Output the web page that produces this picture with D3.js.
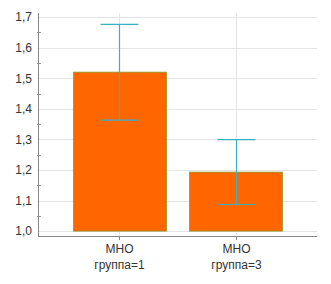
<!DOCTYPE html>
<html>
<head>
<meta charset="utf-8">
<script src="https://cdn.jsdelivr.net/npm/d3@7"></script>
<style>
  body { margin: 0; background: #fff; }
  text { font-family: Arial, "Liberation Sans", sans-serif; }
</style>
</head>
<body>
<svg id="chart" width="331" height="284"></svg>
<script>
// data
const categories = ['МНО|группа=1', 'МНО|группа=3'];
const means = [1.52, 1.193];
const upper = [1.676, 1.299];
const lower = [1.363, 1.087];
const yTicks = [1.0, 1.1, 1.2, 1.3, 1.4, 1.5, 1.6, 1.7];
const yMinor = [1.05, 1.15, 1.25, 1.35, 1.45, 1.55, 1.65];

const margin = { left: 38, right: 14, top: 13, bottom: 48 };
const width = 331 - margin.left - margin.right;
const height = 284 - margin.top - margin.bottom;

const svg = d3.select('#chart')
  .append('g')
  .attr('transform', `translate(${margin.left},${margin.top})`);

const xScale = d3.scaleBand()
  .domain(categories)
  .range([0, width])
  .paddingInner(0.205)
  .paddingOuter(0.295);

const yScale = d3.scaleLinear()
  .domain([0.984, 1.7135])
  .range([height, 0]);

const fmt = d => d3.format('.1f')(d).replace('.', ',');
const cx = d => Math.round(xScale(d) + xScale.bandwidth() / 2) + 0.5;

// grid
svg.selectAll('.hgrid')
  .data(yTicks)
  .enter().append('line')
  .attr('x1', 0).attr('x2', width)
  .attr('y1', d => Math.round(yScale(d)) + 0.5).attr('y2', d => Math.round(yScale(d)) + 0.5)
  .style('stroke', '#e4e4e4');

svg.selectAll('.vgrid')
  .data(categories)
  .enter().append('line')
  .attr('x1', cx).attr('x2', cx)
  .attr('y1', 0).attr('y2', height)
  .style('stroke', '#e4e4e4');

// bars
svg.selectAll('.bar')
  .data(means)
  .enter().append('rect')
  .attr('x', (d, i) => Math.round(xScale(categories[i])) + 0.5)
  .attr('y', d => yScale(d))
  .attr('width', Math.round(xScale.bandwidth()))
  .attr('height', d => yScale(1.0) - yScale(d))
  .style('fill', '#ff6600')
  .style('stroke', '#8a9a2a')
  .style('stroke-width', 0.8);

// error bars
const err = svg.selectAll('.err')
  .data(means)
  .enter().append('g')
  .attr('transform', (d, i) => `translate(${cx(categories[i])},0)`);

err.append('line')
  .attr('y1', (d, i) => yScale(upper[i]))
  .attr('y2', (d, i) => yScale(lower[i]))
  .style('stroke', '#3ab0c0').style('stroke-width', 1.2);
err.append('line')
  .attr('x1', -19).attr('x2', 19)
  .attr('y1', (d, i) => yScale(upper[i])).attr('y2', (d, i) => yScale(upper[i]))
  .style('stroke', '#3ab0c0').style('stroke-width', 1.2);
err.append('line')
  .attr('x1', -19).attr('x2', 19)
  .attr('y1', (d, i) => yScale(lower[i])).attr('y2', (d, i) => yScale(lower[i]))
  .style('stroke', '#3ab0c0').style('stroke-width', 1.2);

// y axis
const yAxis = d3.axisLeft(yScale).tickValues(yTicks).tickFormat(fmt).tickSize(0).tickPadding(6);
svg.append('g')
  .call(yAxis)
  .call(g => g.select('.domain').remove())
  .selectAll('text')
  .style('font-size', '12px')
  .style('fill', '#333');

svg.selectAll('.minor')
  .data(yMinor)
  .enter().append('line')
  .attr('x1', -1).attr('x2', 3)
  .attr('y1', d => Math.round(yScale(d)) + 0.5).attr('y2', d => Math.round(yScale(d)) + 0.5)
  .style('stroke', '#999');

svg.append('line')
  .attr('x1', 0.5).attr('x2', 0.5)
  .attr('y1', 0).attr('y2', height)
  .style('stroke', '#888');

// x axis
svg.append('line')
  .attr('x1', 0).attr('x2', width)
  .attr('y1', height + 0.5).attr('y2', height + 0.5)
  .style('stroke', '#888');

svg.selectAll('.xtick')
  .data(categories)
  .enter().append('line')
  .attr('x1', cx).attr('x2', cx)
  .attr('y1', height).attr('y2', height + 4)
  .style('stroke', '#888');

const xl = svg.selectAll('.xlabel')
  .data(categories)
  .enter().append('text')
  .attr('text-anchor', 'middle')
  .style('font-size', '12px')
  .style('fill', '#333');
xl.append('tspan')
  .attr('x', cx)
  .attr('y', height + 17)
  .text(d => d.split('|')[0]);
xl.append('tspan')
  .attr('x', cx)
  .attr('y', height + 33)
  .text(d => d.split('|')[1]);
</script>
</body>
</html>
